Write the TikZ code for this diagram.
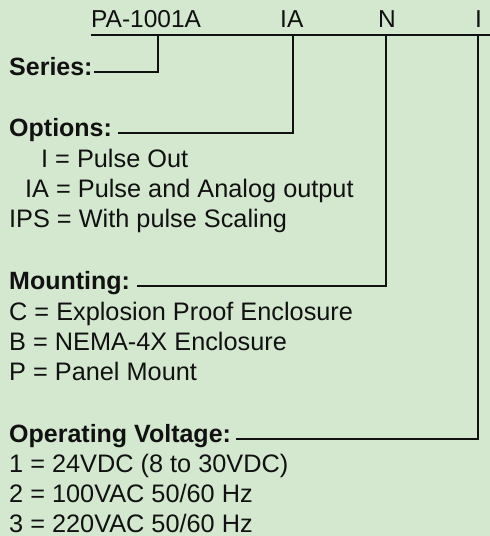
\documentclass[tikz,border=0pt]{standalone}
\usepackage{fontspec}
\setmainfont{Liberation Sans}
\definecolor{bg}{RGB}{212,231,207}
\definecolor{ink}{RGB}{17,17,17}
\begin{document}
\begin{tikzpicture}[x=1pt,y=-1pt,
  txt/.style={anchor=base west, inner sep=0pt, text=ink, font=\fontsize{25.3}{30}\selectfont},
  code/.style={txt, font=\fontsize{24.5}{29}\selectfont},
  head/.style={txt, font=\fontsize{25}{30}\selectfont\bfseries},
  ln/.style={line width=2.2pt, draw=ink}]
\fill[bg] (0,0) rectangle (490,536);
\useasboundingbox (0,0) rectangle (490,536);
% top code
\node[code] (pa) at (91,27) {PA-1001A};
\node[code] (ia) at (280,27) {IA};
\node[code] (nn) at (378,27) {N};
\node[code] (ii) at (475,27) {I};
\coordinate (topL) at (91,35);
\coordinate (topR) at (490,35);
\coordinate (vS) at (158,35);
\coordinate (vO) at (293,35);
\coordinate (vM) at (386,35);
\coordinate (vV) at (478,35);
\draw[ln] (topL) -- (topR);
% headings
\node[head] (series) at (9,75) {Series:};
\node[head] (options) at (9,136) {Options:};
\node[head] (mount) at (9,289) {Mounting:};
\node[head] (volt) at (9,442) {Operating Voltage:};
\draw[ln] ([xshift=1pt]series.mid east) -| (vS);
\draw[ln] ([xshift=6pt]options.mid east) -| (vO);
\draw[ln] ([xshift=7pt]mount.mid east) -| (vM);
\draw[ln] ([xshift=5pt]volt.mid east) -| (vV);
% options
\node[txt] (o1) at (41,167) {I = Pulse Out};
\node[txt] (o2) at (25,197) {IA = Pulse and Analog output};
\node[txt] (o3) at (9,227) {IPS = With pulse Scaling};
% mounting
\node[txt] (m1) at (9,320) {C = Explosion Proof Enclosure};
\node[txt] (m2) at (9,350) {B = NEMA-4X Enclosure};
\node[txt] (m3) at (9,380) {P = Panel Mount};
% voltage
\node[txt] (v1) at (9,472) {1 = 24VDC (8 to 30VDC)};
\node[txt] (v2) at (9,502) {2 = 100VAC 50/60 Hz};
\node[txt] (v3) at (9,532) {3 = 220VAC 50/60 Hz};
\end{tikzpicture}
\end{document}
